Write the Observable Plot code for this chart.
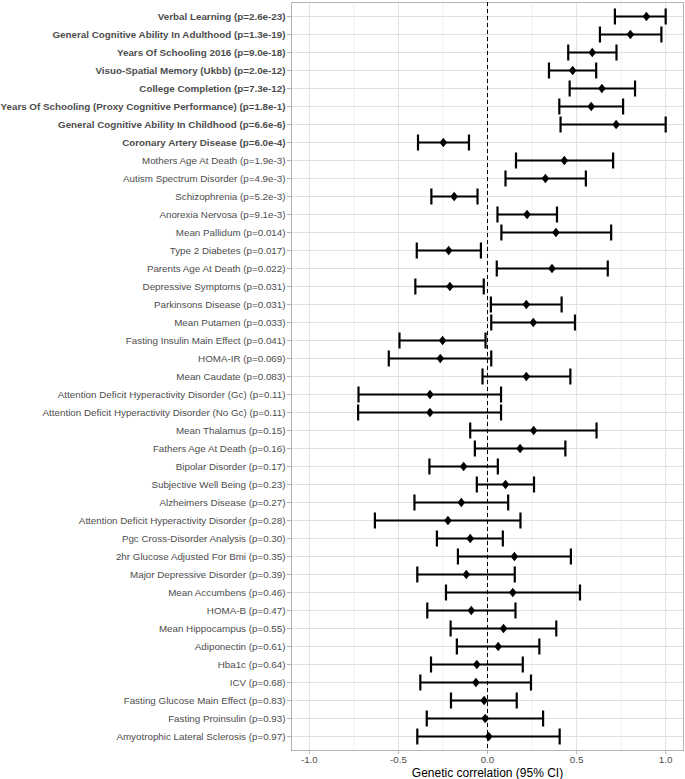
<!DOCTYPE html>
<html>
<head>
<meta charset="utf-8">
<script src="https://cdn.jsdelivr.net/npm/d3@7"></script>
<script src="https://cdn.jsdelivr.net/npm/@observablehq/plot@0.6"></script>
<style>
  html, body { margin: 0; padding: 0; background: #fff; }
</style>
</head>
<body>
<div id="chart"></div>
<script>
const traits = ["Verbal Learning", "General Cognitive Ability In Adulthood", "Years Of Schooling 2016", "Visuo-Spatial Memory (Ukbb)", "College Completion", "Years Of Schooling (Proxy Cognitive Performance)", "General Cognitive Ability In Childhood", "Coronary Artery Disease", "Mothers Age At Death", "Autism Spectrum Disorder", "Schizophrenia", "Anorexia Nervosa", "Mean Pallidum", "Type 2 Diabetes", "Parents Age At Death", "Depressive Symptoms", "Parkinsons Disease", "Mean Putamen", "Fasting Insulin Main Effect", "HOMA-IR", "Mean Caudate", "Attention Deficit Hyperactivity Disorder (Gc)", "Attention Deficit Hyperactivity Disorder (No Gc)", "Mean Thalamus", "Fathers Age At Death", "Bipolar Disorder", "Subjective Well Being", "Alzheimers Disease", "Attention Deficit Hyperactivity Disorder", "Pgc Cross-Disorder Analysis", "2hr Glucose Adjusted For Bmi", "Major Depressive Disorder", "Mean Accumbens", "HOMA-B", "Mean Hippocampus", "Adiponectin", "Hba1c", "ICV", "Fasting Glucose Main Effect", "Fasting Proinsulin", "Amyotrophic Lateral Sclerosis"];

const pvals = ["2.6e-23","1.3e-19","9.0e-18","2.0e-12","7.3e-12","1.8e-1","6.6e-6","6.0e-4","1.9e-3","4.9e-3","5.2e-3","9.1e-3","0.014","0.017","0.022","0.031","0.031","0.033","0.041","0.069","0.083","0.11","0.11","0.15","0.16","0.17","0.23","0.27","0.28","0.30","0.35","0.39","0.46","0.47","0.55","0.61","0.64","0.68","0.83","0.93","0.97"];

const significant = [true, true, true, true, true, true, true, true, false, false, false, false, false, false, false, false, false, false, false, false, false, false, false, false, false, false, false, false, false, false, false, false, false, false, false, false, false, false, false, false, false];

const rg = [0.892, 0.802, 0.588, 0.478, 0.642, 0.582, 0.722, -0.248, 0.431, 0.325, -0.187, 0.222, 0.384, -0.218, 0.362, -0.211, 0.218, 0.257, -0.252, -0.265, 0.218, -0.323, -0.323, 0.259, 0.183, -0.134, 0.101, -0.147, -0.222, -0.097, 0.151, -0.119, 0.142, -0.091, 0.090, 0.060, -0.060, -0.065, -0.019, -0.013, 0.007];

const ciLow = [0.715, 0.631, 0.453, 0.345, 0.461, 0.403, 0.410, -0.390, 0.160, 0.101, -0.315, 0.056, 0.078, -0.397, 0.052, -0.405, 0.019, 0.021, -0.494, -0.554, -0.028, -0.724, -0.726, -0.097, -0.071, -0.326, -0.060, -0.410, -0.632, -0.284, -0.166, -0.394, -0.233, -0.338, -0.207, -0.172, -0.317, -0.377, -0.205, -0.341, -0.394];

const ciHigh = [1.0, 0.976, 0.724, 0.610, 0.828, 0.761, 1.0, -0.104, 0.705, 0.552, -0.056, 0.390, 0.694, -0.037, 0.675, -0.021, 0.416, 0.491, -0.011, 0.021, 0.465, 0.076, 0.076, 0.612, 0.437, 0.058, 0.261, 0.116, 0.185, 0.086, 0.468, 0.153, 0.519, 0.157, 0.386, 0.291, 0.198, 0.244, 0.164, 0.312, 0.405];

const majorTicks = [-1, -0.5, 0, 0.5, 1];
const minorTicks = [-0.75, -0.25, 0.25, 0.75];
const xTitle = "Genetic correlation (95% CI)";

const data = traits.map((t, i) => ({
  label: `${t} (p=${pvals[i]})`,
  bold: significant[i],
  rg: rg[i],
  lo: ciLow[i],
  hi: ciHigh[i]
}));
const labels = data.map(d => d.label);
const boldLabels = data.filter(d => d.bold).map(d => d.label);
const normalLabels = data.filter(d => !d.bold).map(d => d.label);

const diamond = {
  draw(ctx, size) {
    const h = Math.sqrt(size) * 0.9;
    const w = h * 0.82;
    ctx.moveTo(0, -h);
    ctx.lineTo(w, 0);
    ctx.lineTo(0, h);
    ctx.lineTo(-w, 0);
    ctx.closePath();
  }
};
const capSymbol = {
  draw(ctx) {
    ctx.moveTo(0, -8);
    ctx.lineTo(0, 8);
  }
};

const axisCommon = {tickSize: 4, tickPadding: 2, label: null, fill: "#4d4d4d", stroke: "#b3b3b3"};

const chart = Plot.plot({
  width: 685,
  height: 779,
  marginLeft: 291,
  marginRight: 2,
  marginTop: 2,
  marginBottom: 29,
  style: {fontFamily: "'Liberation Sans', Arial, sans-serif", fontSize: "9.8px", background: "white", color: "black"},
  x: {domain: [-1.1, 1.1]},
  y: {type: "point", domain: labels, padding: 0.6},
  marks: [
    Plot.ruleX(minorTicks, {stroke: "#ebebeb", strokeWidth: 0.7}),
    Plot.ruleX(majorTicks, {stroke: "#e0e0e0", strokeWidth: 1}),
    Plot.ruleY(labels, {stroke: "#e0e0e0", strokeWidth: 1}),
    Plot.frame({stroke: "#b3b3b3"}),
    Plot.ruleX([0], {stroke: "black", strokeDasharray: "4,3", strokeWidth: 1}),
    Plot.ruleY(data, {y: "label", x1: "lo", x2: "hi", stroke: "black", strokeWidth: 2.2}),
    Plot.dot(data, {x: "lo", y: "label", symbol: capSymbol, r: 3, fill: "none", stroke: "black", strokeWidth: 2.2}),
    Plot.dot(data, {x: "hi", y: "label", symbol: capSymbol, r: 3, fill: "none", stroke: "black", strokeWidth: 2.2}),
    Plot.dot(data, {x: "rg", y: "label", symbol: diamond, r: 2.9, fill: "black", stroke: "none"}),
    Plot.axisX({...axisCommon, ticks: majorTicks, tickFormat: d => d.toFixed(1), tickPadding: 2}),
    Plot.axisY({...axisCommon, ticks: boldLabels, fontWeight: "bold"}),
    Plot.axisY({...axisCommon, ticks: normalLabels}),
    Plot.text([xTitle], {text: d => d, frameAnchor: "bottom", lineAnchor: "middle", dy: 23, fontSize: 12, fill: "black"})
  ]
});

document.getElementById("chart").appendChild(chart);
</script>
</body>
</html>
